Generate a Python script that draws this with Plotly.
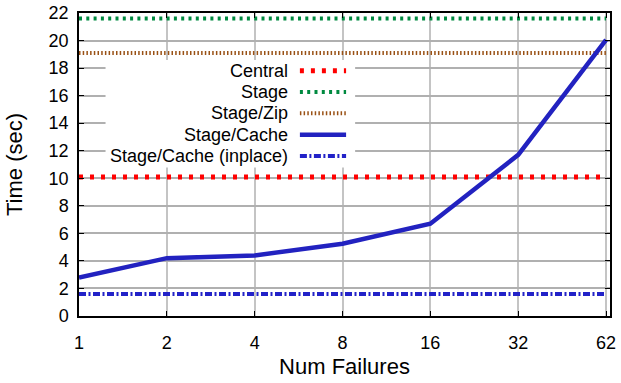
import plotly.graph_objects as go

x_labels = ["1", "2", "4", "8", "16", "32", "62"]
central = [10.1] * 7
stage = [21.6] * 7
stage_zip = [19.1] * 7
stage_cache = [2.8, 4.2, 4.4, 5.25, 6.7, 11.7, 20.05]
stage_cache_inplace = [1.6] * 7
y_ticks = list(range(0, 23, 2))

xi = list(range(len(x_labels)))

series = [
    ("Central", central, dict(color="#ff0000", width=5, dash="4px,7px")),
    ("Stage", stage, dict(color="#008a40", width=4, dash="3px,4.3px")),
    ("Stage/Zip", stage_zip, dict(color="#9a5216", width=4, dash="1.5px,2.2px")),
    ("Stage/Cache", stage_cache, dict(color="#2222c0", width=4.5)),
    ("Stage/Cache (inplace)", stage_cache_inplace, dict(color="#2222c8", width=4, dash="7px,2.5px,2px,2.5px")),
]

fig = go.Figure()
for name, vals, line in series:
    fig.add_trace(go.Scatter(x=xi, y=vals, mode="lines", name=name, line=line, showlegend=False))

fam = "Liberation Sans, Arial, sans-serif"
font = dict(family=fam, size=18, color="black")

# manual gnuplot-style legend (text right-aligned, sample on right)
shapes = [dict(type="rect", xref="paper", yref="paper", x0=0.05, x1=0.52, y0=0.49, y1=0.845,
               fillcolor="white", line=dict(width=0), layer="above")]
annotations = []
rows = [0.809, 0.739, 0.669, 0.598, 0.528]
for (name, vals, line), ry in zip(series, rows):
    annotations.append(dict(text=name, x=0.398, y=ry, xref="paper", yref="paper", xanchor="right",
                            yanchor="middle", showarrow=False, font=dict(family=fam, size=18, color="black")))
    shapes.append(dict(type="line", xref="paper", yref="paper", x0=0.416, x1=0.503, y0=ry, y1=ry,
                       line=line, layer="above"))

fig.update_layout(
    width=621, height=383,
    margin=dict(l=79, r=11, t=13, b=67, autoexpand=False),
    paper_bgcolor="white", plot_bgcolor="white",
    font=font,
    shapes=shapes, annotations=annotations,
    xaxis=dict(range=[0, 6.045], tickvals=xi, ticktext=x_labels, showgrid=True, gridcolor="#c4c4c4",
               gridwidth=1.5, showline=True, linecolor="black", linewidth=1.5, mirror="ticks",
               ticks="inside", ticklen=5, tickcolor="black", zeroline=False, automargin=False,
               ticklabelstandoff=10,
               title=dict(text="Num Failures", standoff=6)),
    yaxis=dict(range=[0, 22], tickvals=y_ticks, showgrid=True, gridcolor="#b0b0b0", gridwidth=1.5,
               showline=True, linecolor="black", linewidth=1.5, mirror="ticks", ticks="inside",
               ticklen=5, tickcolor="black", zeroline=False, automargin=False,
               ticklabelstandoff=5,
               title=dict(text="Time (sec)", standoff=20)),
)

fig.write_html("out.html")
